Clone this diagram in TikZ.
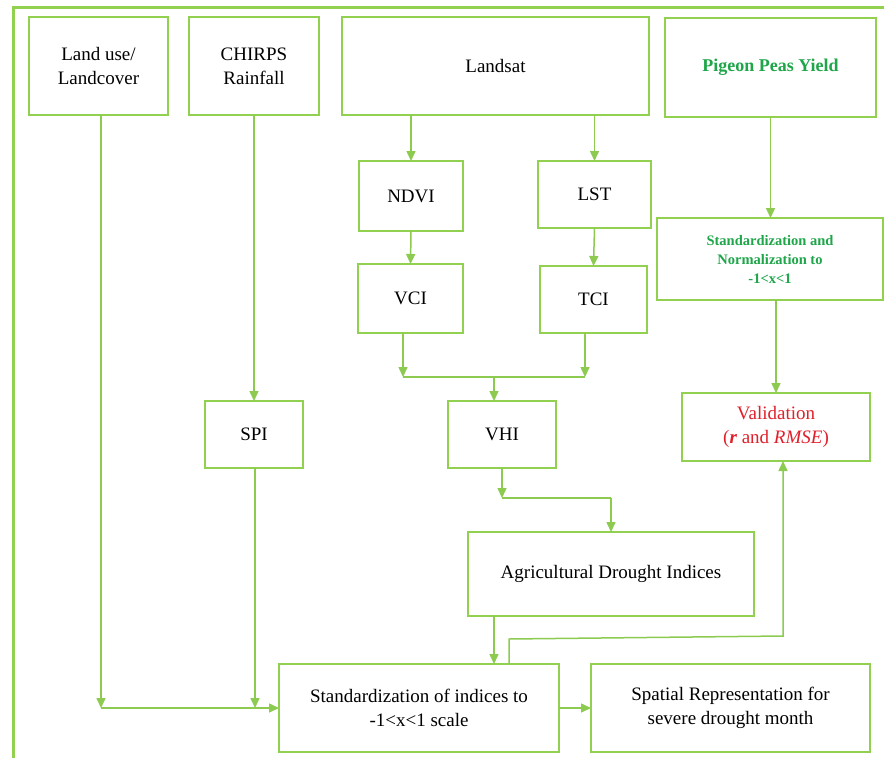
\documentclass[tikz,border=0pt]{standalone}
\usepackage{fontspec}
\setmainfont{Liberation Serif}
\usetikzlibrary{arrows.meta}
\definecolor{bgreen}{HTML}{92D050}
\definecolor{lgreen}{HTML}{8CCB50}
\definecolor{tgreen}{HTML}{1FA64A}
\definecolor{tred}{HTML}{E0202B}
\begin{document}
\begin{tikzpicture}[x=1pt,y=-1pt,
  box/.style={draw=bgreen,line width=2.6pt,fill=white,align=center,inner sep=2pt,outer sep=0pt,
    font=\fontsize{19}{24}\selectfont},
  conn/.style={draw=lgreen,line width=1.5pt},
  arr/.style={conn,-{Triangle[length=10pt,width=9pt]},lgreen}]
\useasboundingbox (0,0) rectangle (884,758);
\fill[white] (0,0) rectangle (884,758);
\draw[bgreen,line width=3.5pt] (13.5,770) -- (13.5,7.5) -- (890,7.5);
% boxes
\node[box,minimum width=139,minimum height=98] (landuse) at (98.5,66) {Land use/\\Landcover};
\node[box,minimum width=130,minimum height=98] (chirps) at (254,66) {CHIRPS\\Rainfall};
\node[box,minimum width=307,minimum height=98] (landsat) at (495.5,66) {Landsat};
\node[box,minimum width=211,minimum height=99,text=tgreen,font=\fontsize{18}{22}\selectfont\bfseries] (pigeon) at (770.5,67.5) {Pigeon Peas Yield};
\node[box,minimum width=104,minimum height=70] (ndvi) at (411,196) {NDVI};
\node[box,minimum width=113,minimum height=67] (lst) at (594.5,194.5) {LST};
\node[box,minimum width=105,minimum height=69] (vci) at (410.5,298.5) {VCI};
\node[box,minimum width=107,minimum height=67] (tci) at (593.5,299.5) {TCI};
\node[box,minimum width=226,minimum height=82,text=tgreen,font=\fontsize{14.5}{19}\selectfont\bfseries] (stdnorm) at (770,259) {Standardization and\\Normalization to\\-1<x<1};
\node[box,minimum width=98,minimum height=67] (spi) at (254,434.5) {SPI};
\node[box,minimum width=108,minimum height=67] (vhi) at (502,434.5) {VHI};
\node[box,minimum width=188,minimum height=68,text=tred] (valid) at (776,427) {Validation\\(\textbf{\textit{r}} and \textit{RMSE})};
\node[box,minimum width=286,minimum height=84] (adi) at (611,574) {Agricultural Drought Indices};
\node[box,minimum width=280,minimum height=88] (std) at (419,708) {Standardization of indices to\\-1<x<1 scale};
\node[box,minimum width=279,minimum height=88] (spatial) at (730.5,708) {Spatial Representation for\\severe drought month};
% junction coordinates
\coordinate (j1) at (101,708);
\coordinate (m1) at (403,377);
\coordinate (m2) at (585,377);
\coordinate (m3) at (494,377);
\coordinate (n1) at (502,498);
\coordinate (n2) at (611,498);
\coordinate (f1) at (509,639);
\coordinate (f2) at (783,636);
% connectors
\draw[arr] ([xshift=2.5pt]landuse.south) -- (j1);
\draw[arr] (j1) -- (std.west);
\draw[arr] (chirps.south) -- (spi.north);
\draw[arr] ([xshift=1pt]spi.south) -- ([xshift=1pt]spi.south |- std.west);
\draw[arr] (ndvi.north |- landsat.south) -- (ndvi.north);
\draw[arr] (lst.north |- landsat.south) -- (lst.north);
\draw[arr] (ndvi.south) -- (vci.north);
\draw[arr] (lst.south) -- (tci.north);
\draw[arr] (vci.south -| m1) -- (m1);
\draw[arr] (tci.south -| m2) -- (m2);
\draw[conn] (m1) -- (m2);
\draw[arr] (m3) -- (m3 |- vhi.north);
\draw[arr] (vhi.south) -- (n1);
\draw[conn] (n1) -- (n2);
\draw[arr] (n2) -- (adi.north);
\draw[arr] ([xshift=-117pt]adi.south) -- ([xshift=-117pt]adi.south |- std.north);
\draw[arr] (f1 |- std.north) -- (f1) -- (f2) -- (f2 |- valid.south);
\draw[arr] (pigeon.south) -- (pigeon.south |- stdnorm.north);
\draw[arr] (stdnorm.south -| valid.north) -- (valid.north);
\draw[arr] (std.east) -- (spatial.west);
\end{tikzpicture}
\end{document}
